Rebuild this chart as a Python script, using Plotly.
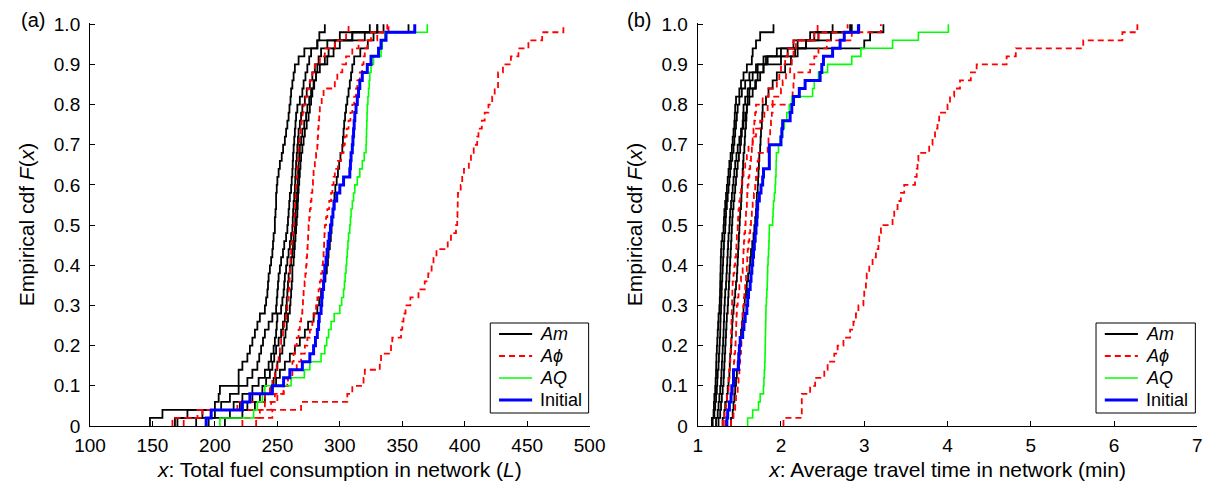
import plotly.graph_objects as go

# ---------------- Data: sorted samples (50 runs) per curve ----------------
# Panel (a): total fuel consumption in network (L)
fuel_Am_1 = [148,158,200,203,204,219,219,222,226,228,230,232,234,236,240,241,242,242.5,243,244,245,246,246.5,247,248,248,248.5,249,249,249.5,250,251,252,253.5,254.6,256,257,258,259,259.7,260.5,261,262,263,264,267,271.6,282,283.6,288]
fuel_Am_2 = [168,178,205,212,219,226,230,234,235.5,237,238.5,240,243,246,249,249.5,250,250.5,251,252,253,254.5,255.5,257,258,258.5,259,259.5,260,261,261.5,262,262.3,262.6,263,263.5,264,264.5,265,266,268,270,271,272.5,274,275.5,277,282,300,324]
fuel_Am_3 = [170,190,215,222,230,235,240,243,245,247,248,249,249.5,250,253,254,255,255.5,256,257,258,259,260,261,262,262.3,262.6,263,263.5,264,264.3,264.6,265,265.5,266,266.5,267,268,269,270,272,273.5,276,278,280,283,285,290,310,330]
fuel_Am_4 = [185,200,220,230,238,241,244,246,247.5,249,251,253,254.5,256,257,257.5,258,258.5,259,260,261,262,262.5,263,264,264.3,264.6,265,265.5,266,266.3,266.6,267,267.5,268,269,270,271.5,273,274,275.5,277,279,281,284,290,295,300,320,335]
fuel_Am_5 = [208,222,232,240,246,249,252,256,260,264,268,272,274.6,279,282,283.5,285,287,288.5,289.6,290.5,291,292,292.8,293.4,294,294.5,295,295.7,296.4,297.5,298.5,299.5,300.5,302,302.5,303,303.5,304.2,305,306,307,308,309,310,311.5,316.4,322.4,327,355]
fuel_Am_6 = [195,212,226,236,245,247,248.5,250,252,254,255.5,256.5,257.5,258.5,260,260.5,261,261.5,262,262,263,263.5,264,264.5,265,265.5,266,266.3,266.6,267,267.5,268,268.5,269,270,271,272,273.5,275,276,277,278,279.5,281,282,288,291,296,310,330]
fuel_Aphi_1 = [166,186,218,240,244,246,248,249.5,251,252,253,254.5,255.5,257,258,258.5,259,259.5,259.8,260,260.5,261,261.7,262.3,263,263.4,263.8,264.2,264.6,265,265.4,265.8,266.2,266.6,267,267.8,268.6,269.4,270.2,271,272.5,274,276,278,280,284,288,296,305,307]
fuel_Aphi_2 = [175,190,240,248,255,258,260,262,263,264,265.5,267,268,269,270,270.5,271,271.8,272.4,273,273.4,273.8,274.2,274.6,275,275.5,276,276.7,277.3,278,278.5,279,280,281,282,282.3,282.6,283,283.5,284,285.5,287,296,298,302,305,310,315,325,338]
fuel_Aphi_3 = [222,236,245,250,255,258.5,262,265.5,269,272,274,276,278,279.5,281,282,283,284,285,286,286.5,287,287.4,287.7,288,289,290,291.5,293,294,295,296,298.5,301,303,304,305.5,307,308.5,310,311.5,313,314,316,318,319,320,322,330,339]
fuel_Aphi_4 = [233,246,269,306,310,319,320,332,333,341,342,349,350,351,352.6,356.5,363,368,370.8,373.5,375,377.4,386.4,389,393,394,394.2,394.4,394.6,396.8,398,399.4,403.3,405,407.2,410,411,413.7,416,419,422,424,426.7,426.7,430.6,437,443,451,462,479]
fuel_AQ = [204,231,234,238,240,261,271.6,276,285,288,289.5,291,293,295.5,300,301.5,303,303.7,304.3,305,305.5,306,306.5,307,308,308.5,309,310,311,312,314,316,318,319.5,321,321.2,321.4,321.6,321.8,322,322.5,323,323.5,324,325,327,333,334,336,370]
fuel_Initial = [193,197,222,228,246,255,260,270,276,279,280.5,282,283,283.5,285,285.5,286,287,287.5,288,289,289.8,290.6,291.5,292.5,293.5,294.5,295.5,297.5,300,303,308,308.5,309,310,310.5,311,311.5,312,313,314,315,316,318,322,325,331,333,337,360]

# Panel (b): average travel time in network (min)
time_Am_1 = [1.17,1.19,1.195,1.20,1.21,1.215,1.22,1.222,1.225,1.23,1.235,1.24,1.245,1.25,1.26,1.265,1.268,1.27,1.272,1.275,1.277,1.28,1.285,1.295,1.31,1.315,1.32,1.33,1.34,1.35,1.36,1.37,1.38,1.395,1.41,1.42,1.43,1.44,1.445,1.45,1.46,1.50,1.52,1.55,1.59,1.65,1.66,1.70,1.75,1.91]
time_Am_2 = [1.18,1.2,1.21,1.22,1.23,1.235,1.24,1.25,1.255,1.26,1.265,1.27,1.272,1.275,1.28,1.283,1.287,1.29,1.295,1.30,1.305,1.31,1.315,1.32,1.33,1.335,1.34,1.35,1.36,1.37,1.38,1.39,1.40,1.415,1.43,1.44,1.45,1.46,1.47,1.48,1.50,1.53,1.57,1.62,1.70,1.82,2.17,3.0,3.07,3.23]
time_Am_3 = [1.22,1.24,1.25,1.26,1.27,1.28,1.285,1.29,1.295,1.30,1.305,1.31,1.313,1.317,1.32,1.325,1.33,1.34,1.345,1.35,1.355,1.36,1.365,1.37,1.38,1.385,1.39,1.40,1.41,1.42,1.43,1.44,1.45,1.465,1.48,1.50,1.52,1.55,1.57,1.59,1.62,1.66,1.69,1.72,1.79,1.84,2.0,2.3,2.6,2.85]
time_Am_4 = [1.25,1.27,1.28,1.29,1.30,1.31,1.315,1.32,1.325,1.33,1.335,1.34,1.345,1.35,1.36,1.365,1.37,1.375,1.38,1.385,1.39,1.395,1.40,1.405,1.41,1.415,1.42,1.43,1.44,1.45,1.46,1.47,1.48,1.495,1.51,1.52,1.53,1.54,1.545,1.55,1.57,1.60,1.63,1.66,1.72,1.79,1.95,2.15,2.40,2.62]
time_Am_5 = [1.40,1.42,1.43,1.44,1.45,1.46,1.47,1.48,1.49,1.50,1.51,1.52,1.53,1.54,1.55,1.565,1.58,1.59,1.605,1.62,1.63,1.64,1.655,1.67,1.68,1.69,1.70,1.705,1.71,1.72,1.725,1.73,1.735,1.74,1.75,1.755,1.76,1.77,1.775,1.78,1.82,1.85,1.90,1.95,2.05,2.12,2.20,2.30,2.45,2.94]
time_Am_6 = [1.30,1.32,1.33,1.35,1.36,1.37,1.38,1.385,1.39,1.40,1.405,1.41,1.415,1.42,1.43,1.44,1.45,1.46,1.47,1.475,1.48,1.485,1.49,1.495,1.50,1.505,1.51,1.52,1.525,1.53,1.535,1.54,1.545,1.55,1.56,1.565,1.57,1.58,1.585,1.59,1.60,1.62,1.70,1.75,1.79,2.0,2.08,2.2,2.35,2.83]
time_Aphi_1 = [1.30,1.32,1.34,1.35,1.37,1.375,1.38,1.385,1.39,1.395,1.40,1.402,1.405,1.407,1.41,1.413,1.416,1.42,1.43,1.44,1.45,1.46,1.465,1.47,1.48,1.485,1.49,1.50,1.51,1.52,1.53,1.55,1.57,1.59,1.61,1.66,1.70,1.75,1.80,1.84,1.90,2.0,2.02,2.06,2.11,2.13,2.15,2.18,2.40,2.44]
time_Aphi_2 = [1.40,1.43,1.45,1.46,1.48,1.49,1.50,1.505,1.51,1.52,1.525,1.53,1.535,1.54,1.55,1.555,1.56,1.57,1.58,1.59,1.595,1.60,1.61,1.62,1.63,1.64,1.65,1.66,1.675,1.69,1.70,1.71,1.72,1.73,1.84,1.85,1.87,1.88,1.89,1.90,2.13,2.14,2.15,2.16,2.35,2.40,2.45,2.55,2.85,3.2]
time_Aphi_3 = [1.33,1.36,1.38,1.40,1.42,1.425,1.43,1.435,1.44,1.45,1.455,1.46,1.463,1.467,1.47,1.48,1.49,1.50,1.52,1.54,1.545,1.55,1.555,1.56,1.57,1.575,1.58,1.59,1.595,1.60,1.61,1.62,1.63,1.64,1.65,1.66,1.67,1.68,1.69,1.70,1.78,1.85,1.95,1.98,2.0,2.05,2.08,2.15,2.45,2.80]
time_Aphi_4 = [2.03,2.25,2.25,2.25,2.35,2.41,2.52,2.56,2.64,2.68,2.75,2.83,2.87,2.90,2.93,2.99,3.0,3.02,3.03,3.06,3.10,3.14,3.17,3.18,3.2,3.34,3.36,3.40,3.44,3.48,3.61,3.63,3.64,3.65,3.78,3.82,3.85,3.88,3.90,4.0,4.03,4.08,4.15,4.28,4.35,4.71,4.82,5.63,6.1,6.28]
time_AQ = [1.60,1.66,1.73,1.75,1.79,1.795,1.80,1.805,1.808,1.81,1.812,1.814,1.816,1.818,1.82,1.825,1.83,1.835,1.838,1.84,1.845,1.85,1.855,1.858,1.86,1.90,1.905,1.91,1.92,1.93,1.935,1.94,1.942,1.945,1.97,1.99,2.02,2.04,2.07,2.10,2.13,2.38,2.40,2.45,2.56,2.85,2.96,3.34,3.65,4.01]
time_Initial = [1.35,1.36,1.38,1.40,1.41,1.43,1.43,1.49,1.495,1.50,1.51,1.54,1.555,1.57,1.59,1.60,1.61,1.63,1.64,1.65,1.66,1.67,1.68,1.69,1.70,1.71,1.715,1.72,1.74,1.76,1.78,1.79,1.86,1.86,1.86,2.0,2.01,2.02,2.11,2.13,2.15,2.22,2.29,2.47,2.49,2.51,2.62,2.71,2.76,2.93]

y_tick_vals = [0, 0.1, 0.2, 0.3, 0.4, 0.5, 0.6, 0.7, 0.8, 0.9, 1.0]
y_tick_text = ["0", "0.1", "0.2", "0.3", "0.4", "0.5", "0.6", "0.7", "0.8", "0.9", "1.0"]
xa_ticks = [100, 150, 200, 250, 300, 350, 400, 450, 500]
xb_ticks = [1, 2, 3, 4, 5, 6, 7]

legend_order = ["Am", "Aphi", "AQ", "Initial"]
legend_names = {"Am": "<i>Am</i>", "Aphi": "<i>A\u03d5</i>", "AQ": "<i>AQ</i>", "Initial": "Initial"}

# ---------------- Styles ----------------
styles = {
    "Am": dict(color="#000000", width=1.8, dash="solid"),
    "Aphi": dict(color="#ff0000", width=1.8, dash="6px,4px"),
    "AQ": dict(color="#00ff00", width=1.6, dash="solid"),
    "Initial": dict(color="#0000ff", width=3.0, dash="solid"),
}

FONT = "Liberation Sans, Arial, sans-serif"
TICK_SIZE = 19
TITLE_SIZE = 21
LEG_SIZE = 18

W, H = 1225, 483
T, B = 23, 57
PH = H - T - B          # plot-area height in px
AXIS_BOTTOM = H - B     # pixel row of the x axis


def px_x(px):
    return px / W


def px_y(py):
    return (AXIS_BOTTOM - py) / PH


fig = go.Figure()


def ecdf_trace(samples, group, xaxis, yaxis):
    s = sorted(samples)
    n = len(s)
    xs = [s[0]] + s
    ys = [0.0] + [(i + 1) / n for i in range(n)]
    return go.Scatter(
        x=xs, y=ys, mode="lines", line_shape="hv",
        line=styles[group], name=legend_names[group],
        legendgroup=group, showlegend=False,
        xaxis=xaxis, yaxis=yaxis, hoverinfo="skip",
    )


panel_a = [
    ("Am", [fuel_Am_1, fuel_Am_2, fuel_Am_3, fuel_Am_4, fuel_Am_5, fuel_Am_6]),
    ("Aphi", [fuel_Aphi_1, fuel_Aphi_2, fuel_Aphi_3, fuel_Aphi_4]),
    ("AQ", [fuel_AQ]),
    ("Initial", [fuel_Initial]),
]
panel_b = [
    ("Am", [time_Am_1, time_Am_2, time_Am_3, time_Am_4, time_Am_5, time_Am_6]),
    ("Aphi", [time_Aphi_1, time_Aphi_2, time_Aphi_3, time_Aphi_4]),
    ("AQ", [time_AQ]),
    ("Initial", [time_Initial]),
]

for group, curves in panel_a:
    for c in curves:
        fig.add_trace(ecdf_trace(c, group, "x", "y"))
for group, curves in panel_b:
    for c in curves:
        fig.add_trace(ecdf_trace(c, group, "x2", "y2"))

axis_common = dict(
    showline=True, linecolor="black", linewidth=1, mirror=False,
    ticks="inside", ticklen=5, tickcolor="black", tickwidth=1,
    showgrid=False, zeroline=False,
    tickfont=dict(family=FONT, size=TICK_SIZE, color="black"),
)

# ---------------- Legend boxes (drawn in each panel's lower-right corner) ----------------
shapes = []
annotations = []
legend_boxes = [(487, 588), (1109, 1211)]   # left/right pixel edges of the boxes
box_top, box_bottom = 323, 413
row_y = [334, 356, 378, 400]
for left, right in legend_boxes:
    shapes.append(dict(type="rect", xref="paper", yref="paper",
                       x0=px_x(left), x1=px_x(right), y0=px_y(box_bottom), y1=px_y(box_top),
                       line=dict(color="black", width=1), fillcolor="white", layer="above"))
    for key, ry in zip(legend_order, row_y):
        st = styles[key]
        shapes.append(dict(type="line", xref="paper", yref="paper",
                           x0=px_x(left + 9), x1=px_x(left + 43), y0=px_y(ry), y1=px_y(ry),
                           line=dict(color=st["color"], width=st["width"], dash=st["dash"]),
                           layer="above"))
        annotations.append(dict(text=legend_names[key], x=px_x(left + 49), y=px_y(ry),
                                xref="paper", yref="paper", xanchor="left", yanchor="middle",
                                showarrow=False, font=dict(family=FONT, size=LEG_SIZE, color="black")))

annotations.append(dict(text="(a)", x=px_x(3), y=px_y(20), xref="paper", yref="paper",
                        xanchor="left", yanchor="middle", showarrow=False,
                        font=dict(family=FONT, size=20)))
annotations.append(dict(text="(b)", x=px_x(625), y=px_y(20), xref="paper", yref="paper",
                        xanchor="left", yanchor="middle", showarrow=False,
                        font=dict(family=FONT, size=20)))

fig.update_layout(
    width=W, height=H,
    margin=dict(l=0, r=0, t=T, b=B),
    paper_bgcolor="white", plot_bgcolor="white",
    font=dict(family=FONT, size=TICK_SIZE, color="black"),
    showlegend=False,
    xaxis=dict(domain=[76 / W, 589 / W], range=[100, 500], tickvals=xa_ticks,
               anchor="y", ticklabelstandoff=2,
               title=dict(text="<i>x</i>: Total fuel consumption in network (<i>L</i>)",
                          font=dict(family=FONT, size=TITLE_SIZE), standoff=7),
               **axis_common),
    yaxis=dict(domain=[0, 1], range=[0, 1.003], tickvals=y_tick_vals, ticktext=y_tick_text,
               anchor="x", ticklabelstandoff=5,
               title=dict(text="Empirical cdf <i>F</i>(<i>x</i>)",
                          font=dict(family=FONT, size=TITLE_SIZE), standoff=13),
               **axis_common),
    xaxis2=dict(domain=[700 / W, 1213 / W], range=[1, 7], tickvals=xb_ticks,
                anchor="y2", ticklabelstandoff=2,
                title=dict(text="<i>x</i>: Average travel time in network (min)",
                           font=dict(family=FONT, size=TITLE_SIZE), standoff=7),
                **axis_common),
    yaxis2=dict(domain=[0, 1], range=[0, 1.003], tickvals=y_tick_vals, ticktext=y_tick_text,
                anchor="x2", ticklabelstandoff=5,
                title=dict(text="Empirical cdf <i>F</i>(<i>x</i>)",
                           font=dict(family=FONT, size=TITLE_SIZE), standoff=13),
                **axis_common),
    shapes=shapes,
    annotations=annotations,
)

fig.write_html("out.html")
